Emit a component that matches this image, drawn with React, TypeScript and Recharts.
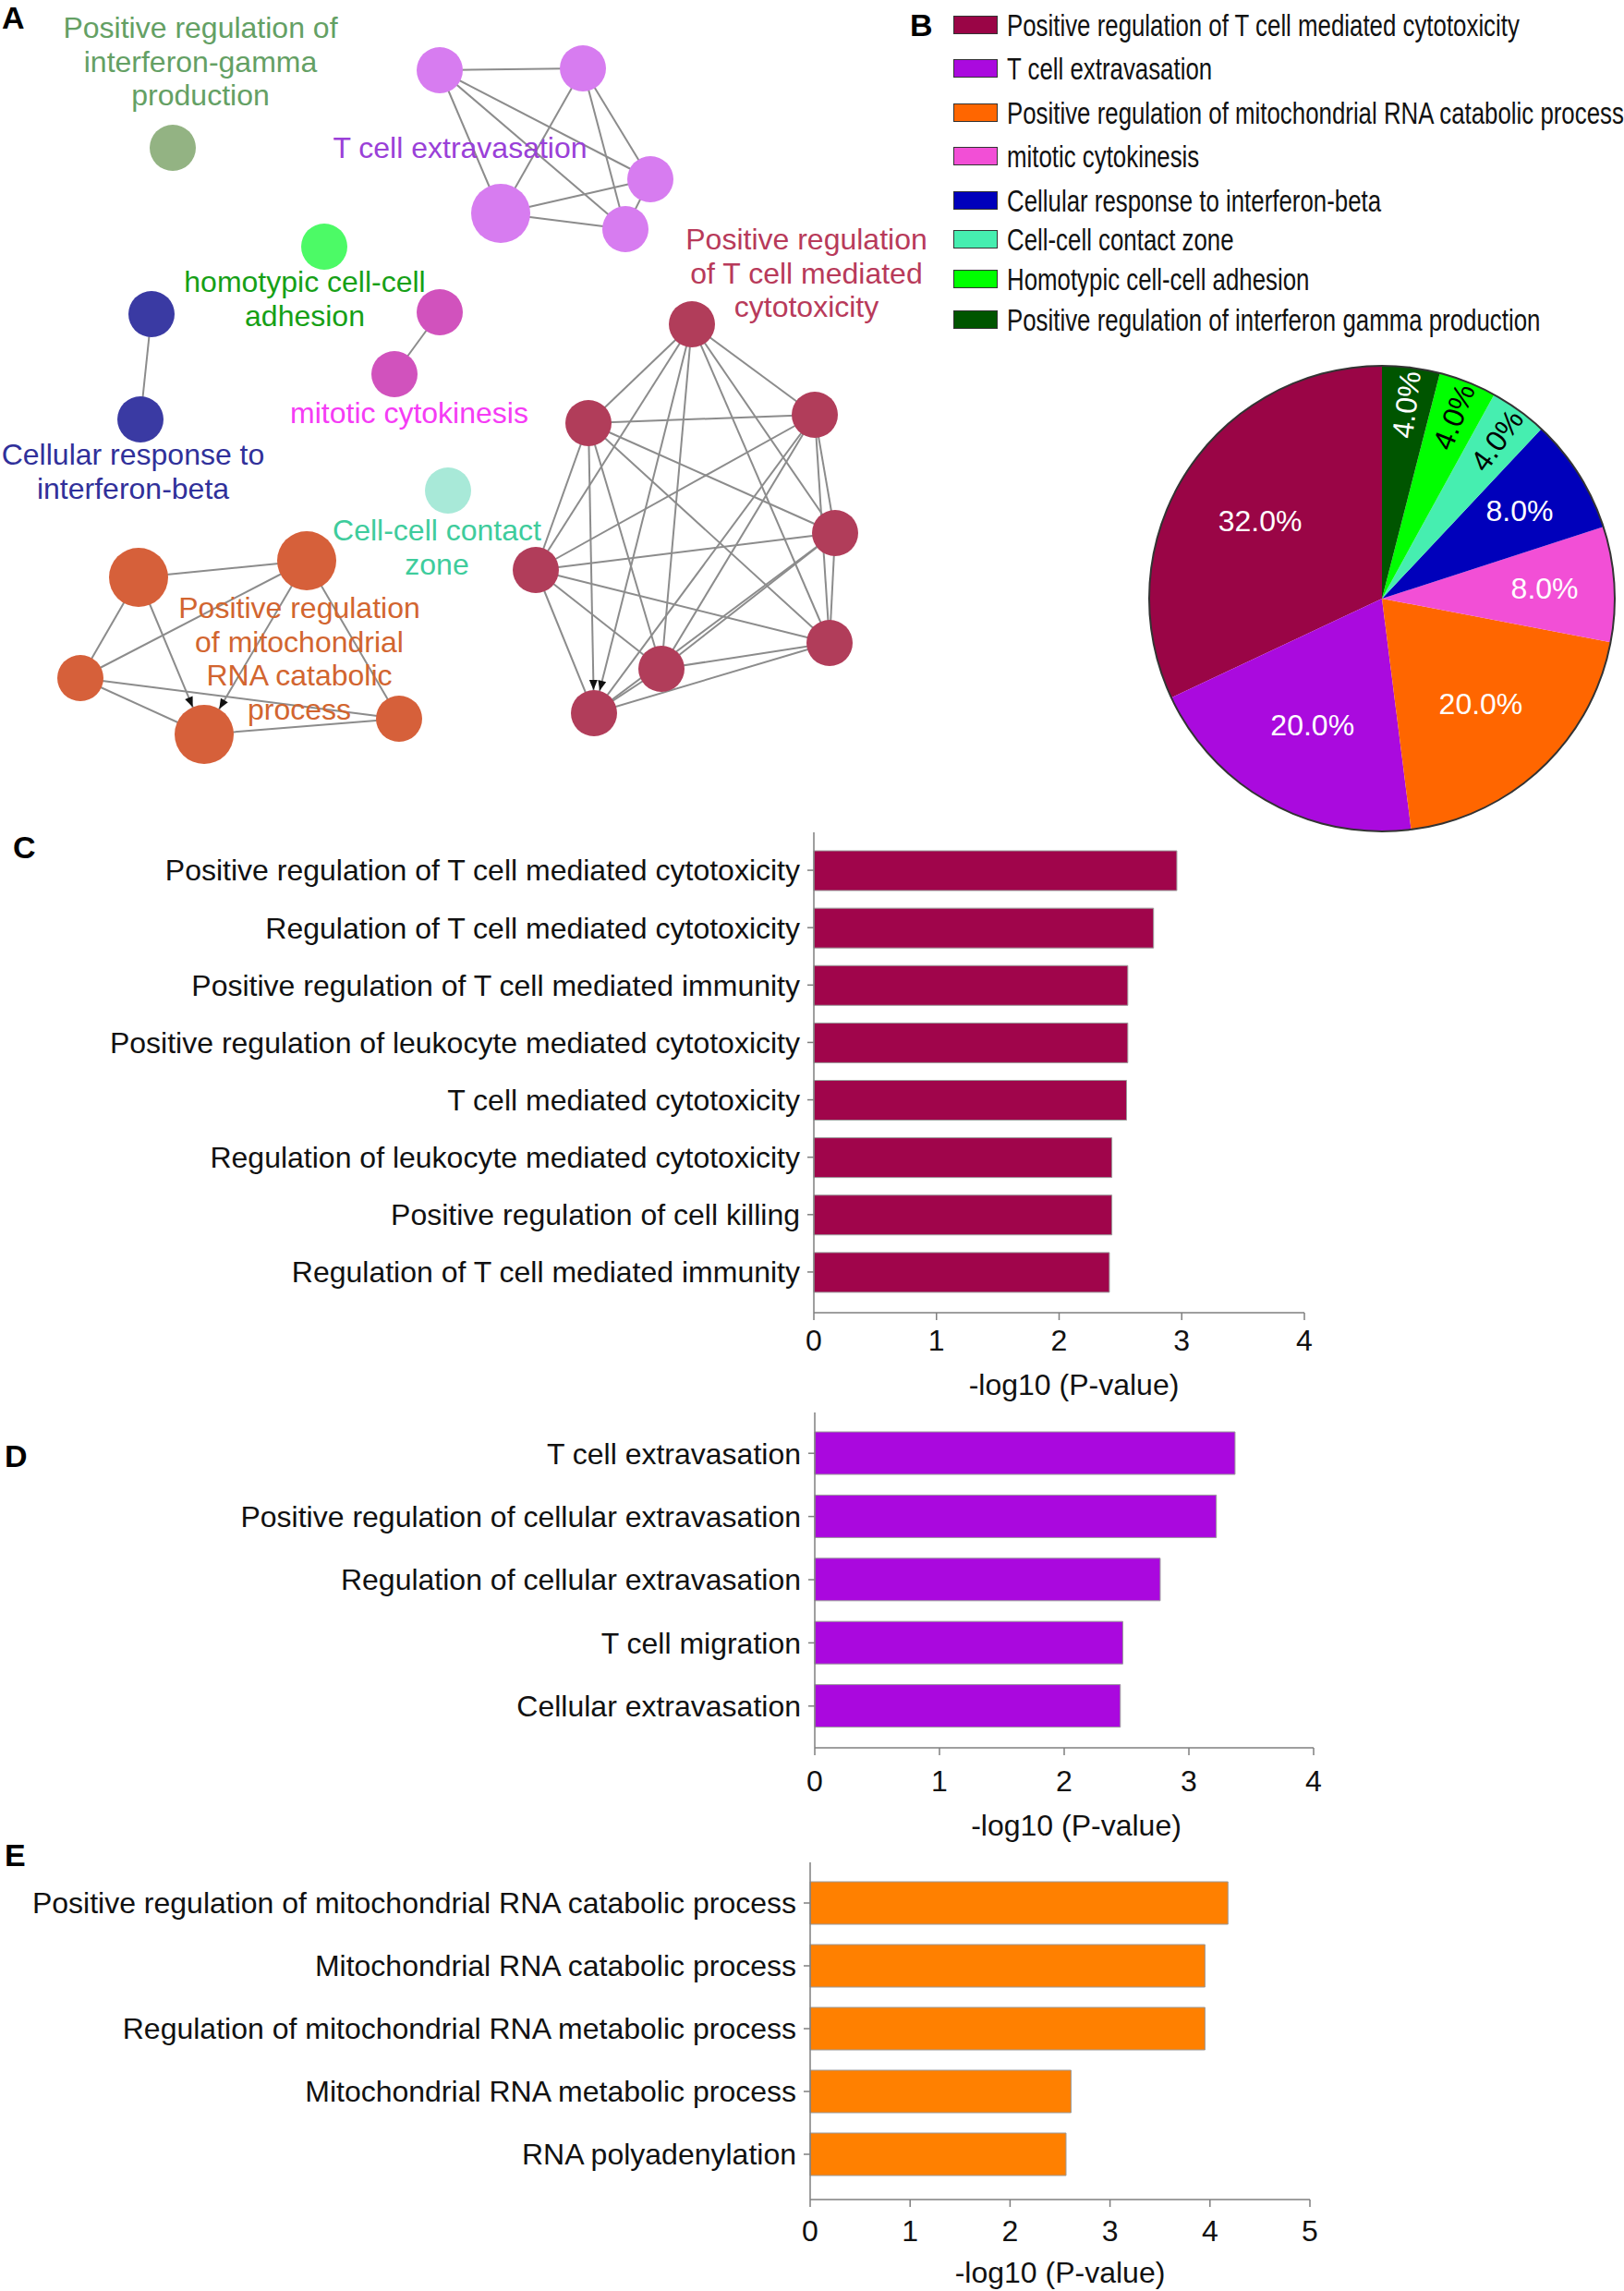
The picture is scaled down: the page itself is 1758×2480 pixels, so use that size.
import React from "react";
import {
  ScatterChart, Scatter, XAxis, YAxis, ReferenceLine,
  PieChart, Pie, Cell, Legend,
  BarChart, Bar, Label,
} from "recharts";

const FONT = "'Liberation Sans', Arial, sans-serif";
const AXIS_GREY = "#7f7f7f";
const TEXT = "#111";

// ---------- A: term network ----------
const clusterColors = ["#93b383", "#d77cf0", "#4cfa66", "#3a3aa3", "#d152bd", "#a8e9d8", "#d6603a", "#b13d5a"];
const clusterTextColors = ["#64a064", "#9a40d8", "#16a016", "#30309a", "#f53cf5", "#3ecc9c", "#d2652f", "#b83a5a"];

const nodeCluster = [0, 1, 1, 1, 1, 1, 2, 3, 3, 4, 4, 5, 6, 6, 6, 6, 6, 7, 7, 7, 7, 7, 7, 7, 7];
const nodeX = [187, 476, 631, 704, 542, 677, 351, 164, 152, 476, 427, 485, 150, 332, 87, 221, 432, 749, 637, 882, 904, 580, 898, 716, 643];
const nodeY = [160, 76, 74, 194, 231, 248, 267, 340, 454, 338, 405, 531, 625, 607, 734, 795, 778, 351, 458, 449, 577, 617, 696, 724, 772];
const nodeSize = [25, 25, 25, 25, 32, 25, 25, 25, 25, 25, 25, 25, 32, 32, 25, 32, 25, 25, 25, 25, 25, 25, 25, 25, 25];

const edges: [number, number][] = [
  [1, 2], [1, 3], [1, 4], [1, 5], [2, 3], [2, 4], [2, 5], [3, 4], [3, 5], [4, 5],
  [7, 8], [9, 10],
  [12, 13], [12, 14], [12, 15], [13, 14], [13, 15], [13, 16], [14, 15], [14, 16], [15, 16],
  [17, 18], [17, 19], [17, 20], [17, 21], [17, 22], [17, 23], [17, 24],
  [18, 19], [18, 20], [18, 21], [18, 22], [18, 23], [18, 24],
  [19, 20], [19, 21], [19, 22], [19, 23], [19, 24],
  [20, 21], [20, 22], [20, 23], [20, 24],
  [21, 22], [21, 23], [21, 24],
  [22, 23], [22, 24],
  [23, 24],
];
// directed edges (small arrow heads near the target node)
const arrowEdges: [number, number][] = [[12, 15], [13, 15], [18, 24], [17, 24]];

const labelLines = [
  ["Positive regulation of", "interferon-gamma", "production"],
  ["T cell extravasation"],
  ["homotypic cell-cell", "adhesion"],
  ["Cellular response to", "interferon-beta"],
  ["mitotic cytokinesis"],
  ["Cell-cell contact", "zone"],
  ["Positive regulation", "of mitochondrial", "RNA catabolic", "process"],
  ["Positive regulation", "of T cell mediated", "cytotoxicity"],
];
const labelX = [217, 498, 330, 144, 443, 473, 324, 873];
const labelY = [30, 160, 305, 492, 447, 574, 658, 259];

// ---------- B: pie ----------
const pieNames = [
  "Positive regulation of T cell mediated cytotoxicity",
  "T cell extravasation",
  "Positive regulation of mitochondrial RNA catabolic process",
  "mitotic cytokinesis",
  "Cellular response to interferon-beta",
  "Cell-cell contact zone",
  "Homotypic cell-cell adhesion",
  "Positive regulation of interferon gamma production",
];
const pieCounts = [8, 5, 5, 2, 2, 1, 1, 1];
const pieColors = ["#9a0546", "#aa0ade", "#ff6600", "#f24fd6", "#0000bb", "#46eeb0", "#00ff00", "#005500"];

// ---------- C / D / E: enrichment bars ----------
const cNames = [
  "Positive regulation of T cell mediated cytotoxicity",
  "Regulation of T cell mediated cytotoxicity",
  "Positive regulation of T cell mediated immunity",
  "Positive regulation of leukocyte mediated cytotoxicity",
  "T cell mediated cytotoxicity",
  "Regulation of leukocyte mediated cytotoxicity",
  "Positive regulation of cell killing",
  "Regulation of T cell mediated immunity",
];
const cValues = [2.96, 2.77, 2.56, 2.56, 2.55, 2.43, 2.43, 2.41];
const cTicks = [0, 1, 2, 3, 4];

const dNames = [
  "T cell extravasation",
  "Positive regulation of cellular extravasation",
  "Regulation of cellular extravasation",
  "T cell migration",
  "Cellular extravasation",
];
const dValues = [3.37, 3.22, 2.77, 2.47, 2.45];
const dTicks = [0, 1, 2, 3, 4];

const eNames = [
  "Positive regulation of mitochondrial RNA catabolic process",
  "Mitochondrial RNA catabolic process",
  "Regulation of mitochondrial RNA metabolic process",
  "Mitochondrial RNA metabolic process",
  "RNA polyadenylation",
];
const eValues = [4.18, 3.95, 3.95, 2.61, 2.56];
const eTicks = [0, 1, 2, 3, 4, 5];

const NodeShape = (p: any) => (
  <circle cx={p.cx} cy={p.cy} r={p.payload.size} fill={clusterColors[p.payload.cluster]} />
);

const TermLabel = (p: any) => (
  <text x={p.cx} y={p.cy} textAnchor="middle" fontSize={32} fontFamily={FONT} fill={clusterTextColors[p.payload.cluster]}>
    {p.payload.lines.map((l: string, i: number) => (
      <tspan key={i} x={p.cx} dy={i === 0 ? 11 : 36.5}>{l}</tspan>
    ))}
  </text>
);

function Network() {
  const nodes = nodeX.map((x, i) => ({ x, y: nodeY[i], size: nodeSize[i], cluster: nodeCluster[i] }));
  const labels = labelX.map((x, i) => ({ x, y: labelY[i], lines: labelLines[i], cluster: i }));
  // arrow tips sit on the target circle's rim
  const tips = arrowEdges.map(([a, b]) => {
    const dx = nodeX[a] - nodeX[b];
    const dy = nodeY[a] - nodeY[b];
    const len = Math.hypot(dx, dy);
    const r = nodeSize[b];
    return { x: nodeX[b] + (dx / len) * r, y: nodeY[b] + (dy / len) * r, ang: Math.atan2(-dy, -dx) };
  });
  const ArrowHead = (p: any) => {
    const a = p.payload.ang;
    const L = 11, W = 4.5;
    const bx = p.cx - Math.cos(a) * L, by = p.cy - Math.sin(a) * L;
    const pts = `${p.cx},${p.cy} ${bx - Math.sin(a) * W},${by + Math.cos(a) * W} ${bx + Math.sin(a) * W},${by - Math.cos(a) * W}`;
    return <polygon points={pts} fill="#111" />;
  };
  return (
    <ScatterChart width={1060} height={860} margin={{ top: 0, right: 0, bottom: 0, left: 0 }}>
      <XAxis type="number" dataKey="x" domain={[0, 1060]} hide />
      <YAxis type="number" dataKey="y" domain={[0, 860]} reversed hide />
      {edges.map(([a, b], i) => (
        <ReferenceLine
          key={i}
          segment={[{ x: nodeX[a], y: nodeY[a] }, { x: nodeX[b], y: nodeY[b] }]}
          stroke="#8c8c8c"
          strokeWidth={2}
          ifOverflow="visible"
        />
      ))}
      <Scatter data={nodes} shape={NodeShape} isAnimationActive={false} />
      <Scatter data={tips} shape={ArrowHead} isAnimationActive={false} />
      <Scatter data={labels} shape={TermLabel} isAnimationActive={false} />
    </ScatterChart>
  );
}

const RAD = Math.PI / 180;
const renderPieLabel = (p: any) => {
  const { cx, cy, midAngle, outerRadius, percent, index } = p;
  const small = percent < 0.05;
  const rr = outerRadius * (small ? 0.84 : percent < 0.1 ? 0.7 : 0.62);
  const x = cx + rr * Math.cos(-midAngle * RAD);
  const y = cy + rr * Math.sin(-midAngle * RAD);
  const fill = index === 5 || index === 6 ? "#000" : "#fff";
  return (
    <text
      x={x}
      y={y}
      fill={fill}
      fontSize={32}
      fontFamily={FONT}
      textAnchor="middle"
      dominantBaseline="central"
      transform={small ? `rotate(${-midAngle} ${x} ${y})` : undefined}
    >
      {(percent * 100).toFixed(1)}%
    </text>
  );
};

// legend row centres, px from the top of the panel
const legendRowY = [27, 74, 122, 169, 217, 259, 302, 346];

const PieLegend = () => (
  <div style={{ position: "relative", width: 778, height: 370, fontFamily: FONT }}>
    {pieNames.map((n, i) => (
      <div key={n} style={{ position: "absolute", left: 52, top: legendRowY[i] - 12, height: 24, display: "flex", alignItems: "center" }}>
        <span style={{ display: "inline-block", width: 46, height: 18, background: pieColors[i], border: "1.5px solid #333" }} />
        <span style={{ display: "inline-block", marginLeft: 10, fontSize: 34, color: TEXT, whiteSpace: "nowrap", transform: "scaleX(0.76)", transformOrigin: "left center" }}>{n}</span>
      </div>
    ))}
  </div>
);

function Composition() {
  const data = pieNames.map((name, i) => ({ name, value: pieCounts[i] }));
  return (
    <PieChart width={778} height={910} margin={{ top: 0, right: 0, bottom: 0, left: 0 }}>
      <Legend content={<PieLegend />} layout="vertical" verticalAlign="middle" align="center" wrapperStyle={{ left: 0, top: 0, width: 778, height: 370 }} />
      <Pie
        data={data}
        dataKey="value"
        nameKey="name"
        cx={516}
        cy={648}
        outerRadius={252}
        startAngle={90}
        endAngle={450}
        stroke="none"
        label={renderPieLabel}
        labelLine={false}
        isAnimationActive={false}
      >
        {data.map((d, i) => <Cell key={d.name} fill={pieColors[i]} />)}
      </Pie>
      {/* thin dark rim around the pie */}
      <Pie
        data={[{ name: "outline", value: 1 }]}
        dataKey="value"
        cx={516}
        cy={648}
        innerRadius={251}
        outerRadius={253}
        fill="#333"
        stroke="none"
        legendType="none"
        isAnimationActive={false}
      />
    </PieChart>
  );
}

interface BarsProps {
  names: string[]; values: number[]; ticks: number[]; color: string;
  top: number; axisX: number; plotRight: number; plotHeight: number;
  padTop: number; padBottom: number; barSize: number; tickGap: number; axisHeight: number;
  titleOffset: number; titleDx: number;
}

function EnrichmentBars(p: BarsProps) {
  const data = p.names.map((name, i) => ({ name, value: p.values[i] }));
  const max = p.ticks[p.ticks.length - 1];
  return (
    <div style={{ position: "absolute", left: 0, top: p.top - 11 }}>
      <BarChart
        width={p.plotRight + 40}
        height={11 + p.plotHeight + p.axisHeight}
        data={data}
        layout="vertical"
        margin={{ top: 11, right: 40, bottom: 0, left: 0 }}
      >
        <XAxis
          type="number"
          dataKey="value"
          domain={[0, max]}
          ticks={p.ticks}
          interval={0}
          height={p.axisHeight}
          tickSize={8}
          tickMargin={p.tickGap}
          stroke={AXIS_GREY}
          strokeWidth={1.5}
          tick={{ fill: TEXT, fontSize: 32, fontFamily: FONT }}
        >
          <Label value="-log10 (P-value)" position="insideBottom" offset={p.titleOffset} dx={p.titleDx} style={{ fill: TEXT, fontSize: 32, fontFamily: FONT }} />
        </XAxis>
        <YAxis
          type="category"
          dataKey="name"
          width={p.axisX}
          interval={0}
          tickSize={7}
          tickMargin={8}
          stroke={AXIS_GREY}
          strokeWidth={1.5}
          padding={{ top: p.padTop, bottom: p.padBottom }}
          tick={{ fill: TEXT, fontSize: 32, fontFamily: FONT }}
        />
        <Bar dataKey="value" fill={p.color} stroke="#9a9a9a" strokeWidth={1} barSize={p.barSize} isAnimationActive={false} />
      </BarChart>
    </div>
  );
}

const letter = (ch: string, left: number, top: number) => (
  <div style={{ position: "absolute", left, top, fontSize: 34, fontWeight: 700, lineHeight: 1, color: "#000" }}>{ch}</div>
);

export default function App() {
  return (
    <div style={{ position: "absolute", left: 0, top: 0, width: 1758, height: 2480, background: "#fff", fontFamily: FONT, overflow: "hidden" }}>
      <div style={{ position: "absolute", left: 0, top: 0 }}>
        <Network />
      </div>
      <div style={{ position: "absolute", left: 980, top: 0 }}>
        <Composition />
      </div>
      <EnrichmentBars names={cNames} values={cValues} ticks={cTicks} color="#a0054b"
        top={901} axisX={881} plotRight={1412} plotHeight={520} padTop={10} padBottom={13} barSize={43}
        tickGap={10} axisHeight={115} titleOffset={26} titleDx={16} />
      <EnrichmentBars names={dNames} values={dValues} ticks={dTicks} color="#aa08de"
        top={1529} axisX={882} plotRight={1422} plotHeight={363} padTop={10} padBottom={11} barSize={46}
        tickGap={16} axisHeight={115} titleOffset={20} titleDx={13} />
      <EnrichmentBars names={eNames} values={eValues} ticks={eTicks} color="#ff8000"
        top={2016} axisX={877} plotRight={1418} plotHeight={365} padTop={10} padBottom={15} barSize={46}
        tickGap={14} axisHeight={99} titleOffset={9} titleDx={0} />
      {letter("A", 2, 2)}
      {letter("B", 985, 10)}
      {letter("C", 14, 900)}
      {letter("D", 5, 1559)}
      {letter("E", 5, 1991)}
    </div>
  );
}
